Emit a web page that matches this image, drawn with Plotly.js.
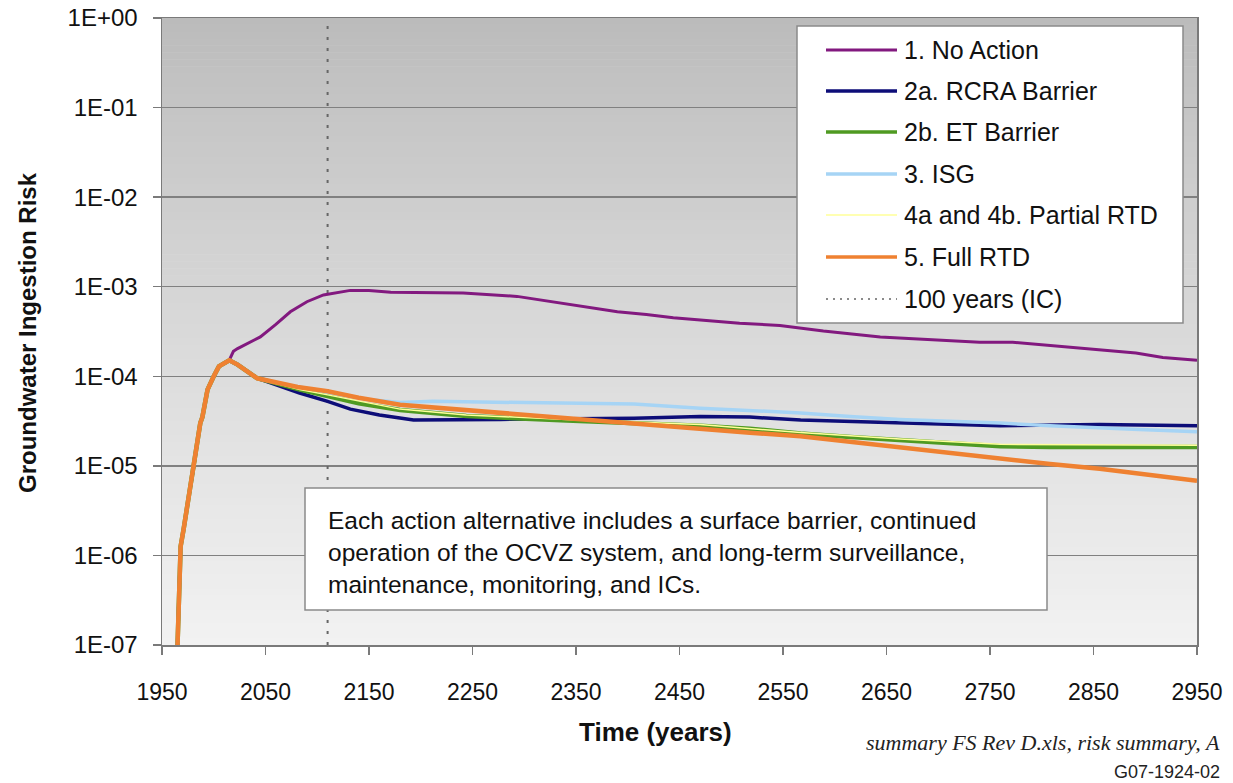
<!DOCTYPE html>
<html>
<head>
<meta charset="utf-8">
<script src="https://cdn.plot.ly/plotly-3.0.1.min.js"></script>
<style>html,body{margin:0;padding:0;background:#fff;}#chart{width:1233px;height:783px;}</style>
</head>
<body>
<div id="chart"></div>
<script>
// ---- Data ----
const seriesNames = ["1. No Action", "2a. RCRA Barrier", "2b. ET Barrier", "3. ISG", "4a and 4b. Partial RTD", "5. Full RTD"];
const icLabel = "100 years (IC)";

// shared early rise (all alternatives identical)
const riseYears = [1965, 1966, 1968, 1971, 1976, 1981, 1987, 1989, 1994, 2000, 2005, 2015];
const riseRisk  = [1.0e-7, 3.2e-7, 1.26e-6, 2.0e-6, 4.7e-6, 1.0e-5, 3.0e-5, 3.5e-5, 7.1e-5, 1.0e-4, 1.29e-4, 1.51e-4];

const noActionYears = [2019, 2023, 2045, 2060, 2074, 2090, 2106, 2132, 2150, 2171, 2241, 2293, 2347, 2390, 2418, 2444, 2508, 2547, 2589, 2644, 2740, 2772, 2891, 2917, 2950];
const noActionRisk  = [1.9e-4, 2.04e-4, 2.75e-4, 3.8e-4, 5.25e-4, 6.8e-4, 8.1e-4, 9.1e-4, 9.1e-4, 8.7e-4, 8.5e-4, 7.8e-4, 6.3e-4, 5.25e-4, 4.9e-4, 4.5e-4, 3.9e-4, 3.7e-4, 3.2e-4, 2.75e-4, 2.4e-4, 2.4e-4, 1.82e-4, 1.62e-4, 1.51e-4];

const rcraYears = [2023, 2042, 2060, 2083, 2110, 2132, 2160, 2193, 2277, 2406, 2470, 2518, 2567, 2663, 2760, 2856, 2950];
const rcraRisk  = [1.35e-4, 9.5e-5, 8.1e-5, 6.5e-5, 5.25e-5, 4.3e-5, 3.7e-5, 3.25e-5, 3.3e-5, 3.4e-5, 3.55e-5, 3.5e-5, 3.25e-5, 3.0e-5, 2.8e-5, 2.9e-5, 2.8e-5];

const etYears = [2023, 2042, 2060, 2083, 2110, 2140, 2180, 2244, 2341, 2406, 2470, 2518, 2567, 2615, 2663, 2710, 2760, 2808, 2950];
const etRisk  = [1.35e-4, 9.5e-5, 8.3e-5, 7.1e-5, 6.0e-5, 5.0e-5, 4.2e-5, 3.6e-5, 3.2e-5, 3.0e-5, 2.8e-5, 2.6e-5, 2.3e-5, 2.1e-5, 1.95e-5, 1.82e-5, 1.66e-5, 1.62e-5, 1.62e-5];

const isgYears = [2023, 2042, 2060, 2083, 2110, 2150, 2180, 2212, 2341, 2406, 2470, 2518, 2567, 2615, 2663, 2760, 2808, 2888, 2950];
const isgRisk  = [1.35e-4, 9.5e-5, 8.5e-5, 7.6e-5, 6.6e-5, 5.5e-5, 5.1e-5, 5.25e-5, 5.0e-5, 4.9e-5, 4.4e-5, 4.1e-5, 3.9e-5, 3.55e-5, 3.3e-5, 3.0e-5, 2.8e-5, 2.57e-5, 2.4e-5];

const partialYears = [2023, 2042, 2083, 2110, 2180, 2244, 2341, 2470, 2567, 2663, 2760, 2950];
const partialRisk  = [1.35e-4, 9.5e-5, 7.1e-5, 6.2e-5, 4.3e-5, 3.7e-5, 3.3e-5, 2.9e-5, 2.35e-5, 2.0e-5, 1.74e-5, 1.7e-5];

const fullYears = [2023, 2042, 2060, 2081, 2110, 2140, 2180, 2230, 2277, 2341, 2406, 2470, 2518, 2567, 2615, 2663, 2710, 2760, 2808, 2856, 2900, 2950];
const fullRisk  = [1.35e-4, 9.5e-5, 8.5e-5, 7.6e-5, 6.8e-5, 5.75e-5, 4.8e-5, 4.3e-5, 3.9e-5, 3.4e-5, 3.0e-5, 2.57e-5, 2.34e-5, 2.14e-5, 1.86e-5, 1.58e-5, 1.38e-5, 1.2e-5, 1.05e-5, 9.3e-6, 8.1e-6, 6.8e-6];

const icYears = [2110, 2110];
const icRisk  = [1e-7, 1];

const xTicks = [1950, 2050, 2150, 2250, 2350, 2450, 2550, 2650, 2750, 2850, 2950];
const yTickVals = [1e-7, 1e-6, 1e-5, 1e-4, 1e-3, 1e-2, 1e-1, 1];
const yTickText = ["1E-07", "1E-06", "1E-05", "1E-04", "1E-03", "1E-02", "1E-01", "1E+00"];

const noteText = "Each action alternative includes a surface barrier, continued<br>operation of the OCVZ system, and long-term surveillance,<br>maintenance, monitoring, and ICs.";
const sourceText = "summary FS Rev D.xls, risk summary, A";
const figId = "G07-1924-02";

// ---- Styles ----
const colors = ["#82197f", "#0d0d78", "#4f9a22", "#a6d4f5", "#ffff99", "#ef8131"];
const widths = [3, 3.5, 4.5, 3.5, 1.5, 4.5];
const FONT = "Liberation Sans, Arial, sans-serif";

const tailYears = [noActionYears, rcraYears, etYears, isgYears, partialYears, fullYears];
const tailRisk  = [noActionRisk, rcraRisk, etRisk, isgRisk, partialRisk, fullRisk];

const traces = [];
traces.push({
  x: icYears, y: icRisk, mode: "lines", name: icLabel, showlegend: false,
  line: {color: "#666", width: 2, dash: "3px,8px"}, hoverinfo: "skip"
});
seriesNames.forEach((n, i) => {
  traces.push({
    x: riseYears.concat(tailYears[i]),
    y: riseRisk.concat(tailRisk[i]),
    mode: "lines", name: n, showlegend: false,
    line: {color: colors[i], width: widths[i]}
  });
});

// plot area pixel geometry
const L = 162, R = 1197, T = 18, B = 645, W = 1233, H = 783;
const px = v => (v - L) / (R - L);
const py = v => (B - v) / (B - T);

const shapes = [];
// background gradient
const N = 90;
const cTop = [186, 186, 186], cBot = [242, 242, 242];
for (let k = 0; k < N; k++) {
  const f = Math.pow((k + 0.5) / N, 0.85);
  const c = cTop.map((a, j) => Math.round(a + (cBot[j] - a) * f));
  shapes.push({type: "rect", xref: "x domain", yref: "y domain", x0: 0, x1: 1,
    y0: 1 - (k + 1) / N, y1: 1 - k / N + 0.001, line: {width: 0},
    fillcolor: `rgb(${c[0]},${c[1]},${c[2]})`, layer: "below"});
}
// manual legend box
shapes.push({type: "rect", xref: "paper", yref: "paper", x0: px(797), x1: px(1183), y0: py(323), y1: py(26),
  fillcolor: "#ffffff", line: {color: "#8a8a8a", width: 1.5}, layer: "above"});
const legendY = [50, 91, 132, 174, 215, 257, 299];
const annotations = [];
const legNames = seriesNames.concat([icLabel]);
legNames.forEach((n, i) => {
  const isIC = i === seriesNames.length;
  shapes.push({type: "line", xref: "paper", yref: "paper", x0: px(826), x1: px(897), y0: py(legendY[i]), y1: py(legendY[i]),
    line: isIC ? {color: "#666", width: 1.5, dash: "2px,5px"} : {color: colors[i], width: Math.min(widths[i], 3.5)}, layer: "above"});
  annotations.push({xref: "paper", yref: "paper", x: px(902), y: py(legendY[i]), xanchor: "left", yanchor: "middle",
    text: n, showarrow: false, font: {family: FONT, size: 25, color: "#111"}});
});

// note box
shapes.push({type: "rect", xref: "paper", yref: "paper", x0: px(305), x1: px(1047), y0: py(610), y1: py(488),
  fillcolor: "#ffffff", line: {color: "#8a8a8a", width: 1.5}, layer: "above"});
annotations.push({xref: "paper", yref: "paper", x: px(326), y: py(552), xanchor: "left", yanchor: "middle",
  text: noteText, showarrow: false, align: "left",
  font: {family: FONT, size: 24.5, color: "#111"}});

annotations.push({xref: "paper", yref: "paper", x: px(655), y: py(732), xanchor: "center", yanchor: "middle",
  text: "<b>Time (years)</b>", showarrow: false, font: {family: FONT, size: 26, color: "#111"}});
annotations.push({xref: "paper", yref: "paper", x: px(27), y: py(333), xanchor: "center", yanchor: "middle",
  text: "<b>Groundwater Ingestion Risk</b>", textangle: -90, showarrow: false, font: {family: FONT, size: 24, color: "#111"}});
annotations.push({xref: "paper", yref: "paper", x: px(1222), y: py(742), xanchor: "right", yanchor: "middle",
  text: "<i>" + sourceText + "</i>", showarrow: false, font: {family: "Liberation Serif, Times New Roman, serif", size: 22, color: "#222"}});
annotations.push({xref: "paper", yref: "paper", x: px(1222), y: py(772), xanchor: "right", yanchor: "middle",
  text: figId, showarrow: false, font: {family: FONT, size: 18, color: "#222"}});

const layout = {
  width: W, height: H,
  margin: {l: L, r: W - R, t: T, b: H - B, pad: 0},
  paper_bgcolor: "#ffffff", plot_bgcolor: "#f2f2f2",
  showlegend: false,
  font: {family: FONT, size: 23, color: "#111"},
  xaxis: {range: [1950, 2950], tickvals: xTicks, showgrid: false, zeroline: false,
    showline: true, linecolor: "#7a7a7a", linewidth: 1.5, mirror: true,
    ticks: "outside", ticklen: 8, tickcolor: "#7a7a7a", tickwidth: 1.5,
    ticklabelstandoff: 18, tickfont: {family: FONT, size: 23, color: "#111"}},
  yaxis: {type: "log", range: [-7, 0], tickvals: yTickVals, ticktext: yTickText,
    showgrid: true, gridcolor: "#808080", gridwidth: 1.5, zeroline: false,
    showline: true, linecolor: "#7a7a7a", linewidth: 1.5, mirror: true,
    ticks: "outside", ticklen: 8, tickcolor: "#7a7a7a", tickwidth: 1.5,
    ticklabelstandoff: 10, tickfont: {family: FONT, size: 24, color: "#111"}},
  shapes: shapes,
  annotations: annotations
};

Plotly.newPlot("chart", traces, layout, {staticPlot: true, displayModeBar: false});
</script>
</body>
</html>
